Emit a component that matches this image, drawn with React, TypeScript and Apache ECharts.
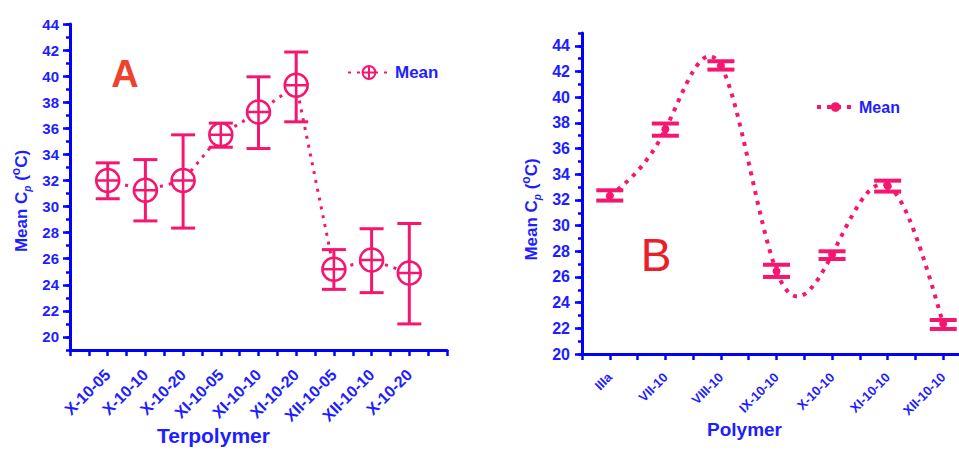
import React, { useEffect, useRef } from 'react';
import * as echarts from 'echarts';

// ---------- Panel A data ----------
const catsA = ['X-10-05', 'X-10-10', 'X-10-20', 'XI-10-05', 'XI-10-10', 'XI-10-20', 'XII-10-05', 'XII-10-10', 'X-10-20'];
const meanA = [32.0, 31.25, 32.0, 35.5, 37.25, 39.3, 25.2, 25.9, 24.9];
const upperA = [33.35, 33.6, 35.5, 36.4, 39.95, 41.85, 26.7, 28.3, 28.7];
const lowerA = [30.6, 28.9, 28.35, 34.55, 34.45, 36.5, 23.65, 23.4, 21.0];
const yTicksA = [20, 22, 24, 26, 28, 30, 32, 34, 36, 38, 40, 42, 44];

// ---------- Panel B data ----------
const catsB = ['IIIa', 'VII-10', 'VIII-10', 'IX-10-10', 'X-10-10', 'XI-10-10', 'XII-10-10'];
const meanB = [32.3, 37.5, 42.45, 26.45, 27.75, 33.1, 22.35];
const upperB = [32.75, 37.95, 42.8, 26.95, 28.0, 33.5, 22.65];
const lowerB = [31.95, 37.0, 42.15, 26.0, 27.4, 32.65, 21.95];
const yTicksB = [20, 22, 24, 26, 28, 30, 32, 34, 36, 38, 40, 42, 44];

const PINK = '#F7166F';
const BLUE = '#0000FF';
const TEXT_BLUE = '#1E1EFF';
const FONT = "'Liberation Sans', Arial, sans-serif";

const CROSS_CIRCLE = 'path://M1,12A11,11,0,1,1,23,12A11,11,0,1,1,1,12ZM1,12L23,12M12,1L12,23';

// Natural cubic spline slopes (unit spacing) for the smooth curve of panel B
function splineSlopes(y: number[]): number[] {
  const n = y.length - 1;
  const M = new Array(n + 1).fill(0);
  if (n >= 2) {
    const c: number[] = [];
    const d: number[] = [];
    for (let i = 1; i < n; i++) {
      const r = 6 * (y[i + 1] - 2 * y[i] + y[i - 1]);
      const prevC = i > 1 ? c[i - 2] : 0;
      const prevD = i > 1 ? d[i - 2] : 0;
      const den = 4 - prevC;
      c.push(1 / den);
      d.push((r - prevD) / den);
    }
    for (let i = n - 1; i >= 1; i--) {
      M[i] = d[i - 1] - c[i - 1] * M[i + 1];
    }
  }
  const s: number[] = [];
  for (let i = 0; i < n; i++) s.push(y[i + 1] - y[i] - (2 * M[i] + M[i + 1]) / 6);
  s.push(y[n] - y[n - 1] + (M[n - 1] + 2 * M[n]) / 6);
  return s;
}

function errorBars(capHalf: number, lw: number) {
  return (params: any, api: any) => {
    const x = api.value(0);
    const lo = api.value(1);
    const hi = api.value(2);
    const t = api.coord([x, hi]);
    const b = api.coord([x, lo]);
    const style = { stroke: PINK, lineWidth: lw };
    return {
      type: 'group',
      children: [
        { type: 'line', shape: { x1: t[0], y1: t[1], x2: b[0], y2: b[1] }, style },
        { type: 'line', shape: { x1: t[0] - capHalf, y1: t[1], x2: t[0] + capHalf, y2: t[1] }, style },
        { type: 'line', shape: { x1: b[0] - capHalf, y1: b[1], x2: b[0] + capHalf, y2: b[1] }, style },
      ],
    };
  };
}

function yName(size: number) {
  return {
    color: TEXT_BLUE,
    fontFamily: FONT,
    fontWeight: 'bold',
    fontSize: size,
    rich: {
      a: { fontSize: size, fontWeight: 'bold', color: TEXT_BLUE, fontFamily: FONT, lineHeight: 22 },
      s: { fontSize: 10, fontWeight: 'bold', fontStyle: 'italic', color: TEXT_BLUE, fontFamily: FONT, lineHeight: 8, verticalAlign: 'bottom' },
      o: { fontSize: 12, fontWeight: 'bold', color: TEXT_BLUE, fontFamily: FONT, lineHeight: 12, verticalAlign: 'top' },
    },
  };
}
const Y_NAME = '{a|Mean C}{s|p}{a| (}{o|o}{a|C)}';

export default function App() {
  const ref = useRef<HTMLDivElement>(null);
  useEffect(() => {
    if (!ref.current) return;
    const chart = echarts.init(ref.current, undefined, { renderer: 'svg' });
    const axisLine = { onZero: false, lineStyle: { color: BLUE, width: 3 } };
    const tickStyle = { color: BLUE, width: 2.5 };
    const labelBase = { color: TEXT_BLUE, fontFamily: FONT, fontWeight: 'bold' };
    const lineDashB = [4, 6];

    const slopesB = splineSlopes(meanB);
    const curveB = meanB.slice(0, -1).map((v, i) => [
      i + 1, v, i + 2, meanB[i + 1], v + slopesB[i] / 3, meanB[i + 1] - slopesB[i + 1] / 3,
    ]);

    const option: any = {
      animation: false,
      backgroundColor: '#ffffff',
      grid: [
        { left: 70, top: 24, width: 377, height: 326, outerBoundsMode: 'none', containLabel: false },
        { left: 582, top: 33, width: 389, height: 321, outerBoundsMode: 'none', containLabel: false },
      ],
      xAxis: [
        {
          gridIndex: 0, type: 'value', min: 0, max: 10, interval: 0.5,
          axisLine, axisTick: { length: 6, lineStyle: tickStyle },
          axisLabel: {
            ...labelBase, fontSize: 16, rotate: 45, margin: 22,
            customValues: catsA.map((_, i) => i + 1),
            formatter: (v: number) => catsA[Math.round(v) - 1] ?? '',
          },
          splitLine: { show: false },
          name: 'Terpolymer', nameLocation: 'middle', nameGap: 75, nameMoveOverlap: false,
          nameTextStyle: { ...labelBase, fontSize: 21, lineHeight: 21, padding: [0, 90, 0, 0] },
        },
        {
          gridIndex: 1, type: 'value', min: 0.5, max: 7.5, interval: 0.5,
          axisLine, axisTick: { length: 6, lineStyle: tickStyle },
          axisLabel: {
            ...labelBase, fontSize: 13, rotate: 45, margin: 21,
            customValues: catsB.map((_, i) => i + 1),
            formatter: (v: number) => catsB[Math.round(v) - 1] ?? '',
          },
          splitLine: { show: false },
          name: 'Polymer', nameLocation: 'middle', nameGap: 66, nameMoveOverlap: false,
          nameTextStyle: { ...labelBase, fontSize: 19, padding: [0, 64, 0, 0] },
        },
      ],
      yAxis: [
        {
          gridIndex: 0, type: 'value', min: 19, max: 44, position: 'left',
          axisLine, axisTick: { customValues: yTicksA, length: 7, lineStyle: tickStyle },
          axisLabel: { ...labelBase, fontSize: 15, margin: 11, customValues: yTicksA },
          splitLine: { show: false },
          name: Y_NAME, nameLocation: 'middle', nameRotate: 90, nameGap: 38, nameMoveOverlap: false,
          nameTextStyle: { ...yName(17), padding: [0, 28, 0, 0] },
        },
        {
          gridIndex: 0, type: 'value', min: 19, max: 44, interval: 1, position: 'left',
          axisLine: { show: false, onZero: false }, axisTick: { length: 4, lineStyle: tickStyle },
          axisLabel: { show: false }, splitLine: { show: false },
        },
        {
          gridIndex: 1, type: 'value', min: 20, max: 45, position: 'left',
          axisLine, axisTick: { customValues: yTicksB, length: 7, lineStyle: tickStyle },
          axisLabel: { ...labelBase, fontSize: 16, margin: 12, customValues: yTicksB },
          splitLine: { show: false },
          name: Y_NAME, nameLocation: 'middle', nameRotate: 90, nameGap: 40, nameMoveOverlap: false,
          nameTextStyle: { ...yName(17), padding: [0, 32, 0, 0] },
        },
        {
          gridIndex: 1, type: 'value', min: 20, max: 45, interval: 1, position: 'left',
          axisLine: { show: false, onZero: false }, axisTick: { length: 4, lineStyle: tickStyle },
          axisLabel: { show: false }, splitLine: { show: false },
        },
      ],
      legend: [
        {
          left: 347, top: 64, padding: 0, itemWidth: 42, itemHeight: 16, selectedMode: false,
          data: ['Mean'],
          textStyle: { ...labelBase, fontSize: 17 },
        },
        {
          left: 815, top: 99, padding: 0, itemWidth: 37, itemHeight: 12, selectedMode: false,
          data: ['Mean B'], formatter: () => 'Mean',
          lineStyle: { color: PINK, width: 4, type: lineDashB, opacity: 1 },
          textStyle: { ...labelBase, fontSize: 16 },
        },
      ],
      graphic: [
        { type: 'text', x: 125, y: 74, style: { text: 'A', fill: '#EE4130', font: `bold 38px ${FONT}`, align: 'center', verticalAlign: 'middle' } },
        { type: 'text', x: 656, y: 255, style: { text: 'B', fill: '#E8202A', font: `normal 46px ${FONT}`, align: 'center', verticalAlign: 'middle' } },
      ],
      series: [
        {
          type: 'custom', name: 'errA', xAxisIndex: 0, yAxisIndex: 0, z: 2,
          renderItem: errorBars(12, 3),
          encode: { x: 0, y: [1, 2] },
          data: catsA.map((_, i) => [i + 1, lowerA[i], upperA[i]]),
        },
        {
          type: 'line', name: 'Mean', xAxisIndex: 0, yAxisIndex: 0, z: 3,
          data: meanA.map((v, i) => [i + 1, v]),
          symbol: CROSS_CIRCLE, symbolSize: 23,
          itemStyle: { color: '#ffffff', borderColor: PINK, borderWidth: 2.5 },
          lineStyle: { color: PINK, width: 3, type: [3, 6] },
        },
        {
          type: 'custom', name: 'curveB', xAxisIndex: 1, yAxisIndex: 2, z: 2,
          encode: { x: [0, 2], y: [1, 3, 4, 5] },
          renderItem: (params: any, api: any) => {
            const x0 = api.value(0);
            const x1 = api.value(2);
            const p0 = api.coord([x0, api.value(1)]);
            const p1 = api.coord([x1, api.value(3)]);
            const c1 = api.coord([x0 + (x1 - x0) / 3, api.value(4)]);
            const c2 = api.coord([x0 + (2 * (x1 - x0)) / 3, api.value(5)]);
            return {
              type: 'bezierCurve',
              shape: { x1: p0[0], y1: p0[1], x2: p1[0], y2: p1[1], cpx1: c1[0], cpy1: c1[1], cpx2: c2[0], cpy2: c2[1] },
              style: { stroke: PINK, lineWidth: 4, lineDash: lineDashB, fill: 'none' },
            };
          },
          data: curveB,
        },
        {
          type: 'line', name: 'Mean B', xAxisIndex: 1, yAxisIndex: 2, z: 3,
          data: meanB.map((v, i) => [i + 1, v]),
          symbol: 'circle', symbolSize: 8,
          itemStyle: { color: PINK },
          lineStyle: { color: PINK, width: 0, opacity: 0 },
        },
        {
          type: 'custom', name: 'errB', xAxisIndex: 1, yAxisIndex: 2, z: 3,
          renderItem: errorBars(13.5, 4),
          encode: { x: 0, y: [1, 2] },
          data: catsB.map((_, i) => [i + 1, lowerB[i], upperB[i]]),
        },
      ],
    };
    chart.setOption(option);
    return () => chart.dispose();
  }, []);
  return <div ref={ref} style={{ position: 'absolute', left: 0, top: 0, width: 959, height: 450 }} />;
}
